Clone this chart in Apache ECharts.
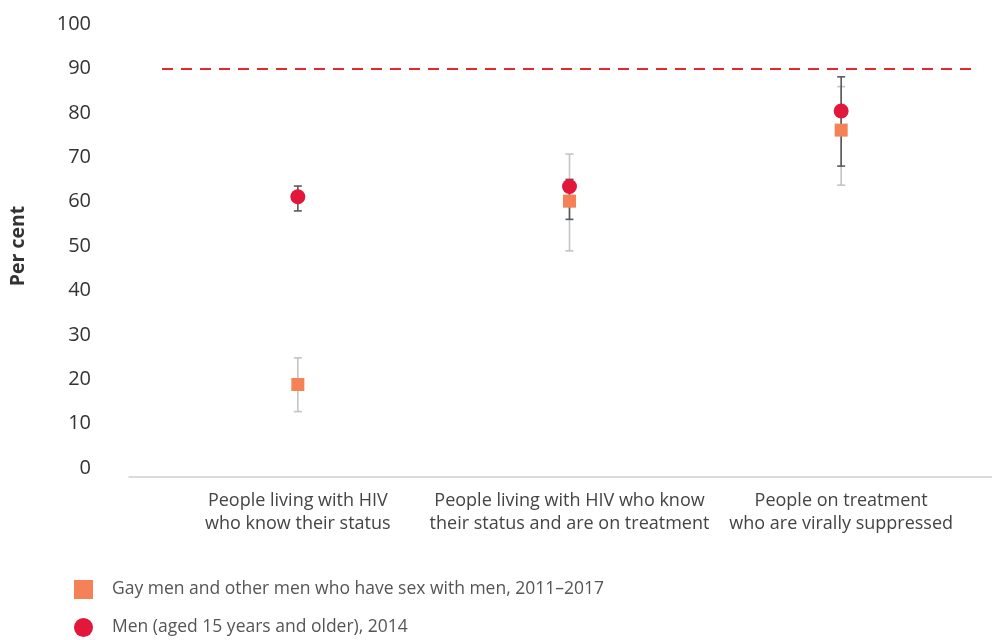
<!DOCTYPE html>
<html><head><meta charset="utf-8">
<script src="https://cdn.jsdelivr.net/npm/echarts@6/dist/echarts.min.js"></script>
<style>html,body{margin:0;padding:0;background:#fff}#c{width:992px;height:640px}</style>
</head><body><div id="c"></div>
<script>
const categories = ['People living with HIV\nwho know their status', 'People living with HIV who know\ntheir status and are on treatment', 'People on treatment\nwho are virally suppressed'];
const msmName = 'Gay men and other men who have sex with men, 2011–2017';
const menName = 'Men (aged 15 years and older), 2014';
const msmValues = [18.8, 60.1, 76.1];
const msmLow = [12.7, 48.9, 63.7];
const msmHigh = [24.8, 70.7, 85.9];
const menValues = [61.1, 63.4, 80.4];
const menLow = [57.9, 56.0, 68.0];
const menHigh = [63.5, 65.0, 88.1];
const targetValue = 90;
const yTicks = [0, 100, 10];

const FONT = '"Open Sans", sans-serif';
function errData(low, high) { return categories.map((c, i) => [i, low[i], high[i]]); }
function errSeries(low, high, color, z) {
  return {
    type: 'custom', xAxisIndex: 0, yAxisIndex: 0, z: z, silent: true,
    data: errData(low, high),
    renderItem: function (params, api) {
      const lo = api.coord([api.value(0), api.value(1)]);
      const hi = api.coord([api.value(0), api.value(2)]);
      const w = 4;
      const st = { stroke: color, lineWidth: 1.6 };
      return { type: 'group', children: [
        { type: 'line', shape: { x1: hi[0], y1: hi[1], x2: lo[0], y2: lo[1] }, style: st },
        { type: 'line', shape: { x1: hi[0] - w, y1: hi[1], x2: hi[0] + w, y2: hi[1] }, style: st },
        { type: 'line', shape: { x1: lo[0] - w, y1: lo[1], x2: lo[0] + w, y2: lo[1] }, style: st }
      ]};
    }
  };
}
const chart = echarts.init(document.getElementById('c'));
chart.setOption({
  animation: false,
  textStyle: { fontFamily: FONT },
  grid: [
    { left: 162, right: 15, top: 24, bottom: 172 },
    { left: 129, right: 0, top: 24, bottom: 163 }
  ],
  legend: {
    orient: 'vertical', left: 74, top: 580, padding: 0, height: 60, itemGap: 19, itemWidth: 19, itemHeight: 19,
    textStyle: { fontSize: 17.5, color: '#555', fontFamily: FONT, padding: [0, 0, 0, 14] },
    data: [{ name: msmName, icon: 'rect' }, { name: menName, icon: 'circle' }]
  },
  xAxis: [
    { type: 'category', gridIndex: 0, data: categories, boundaryGap: true,
      axisLine: { show: false }, axisTick: { show: false },
      axisLabel: { fontSize: 18, color: '#444', lineHeight: 23, margin: 21, fontFamily: FONT, interval: 0 } },
    { type: 'value', gridIndex: 1, min: 0, max: 1,
      axisLine: { show: true, lineStyle: { color: '#d0d0d0', width: 1.5 } },
      axisTick: { show: false }, axisLabel: { show: false }, splitLine: { show: false } }
  ],
  yAxis: [
    { type: 'value', gridIndex: 0, min: yTicks[0], max: yTicks[1], interval: yTicks[2],
      name: 'Per cent', nameLocation: 'middle', nameGap: 134, nameRotate: 90,
      nameTextStyle: { fontSize: 19.5, fontWeight: 'bold', color: '#333', fontFamily: FONT },
      axisLine: { show: false }, axisTick: { show: false }, splitLine: { show: false },
      axisLabel: { fontSize: 20, color: '#333', margin: 71, fontFamily: FONT } },
    { type: 'value', gridIndex: 1, show: false, min: 0, max: 1 }
  ],
  series: [
    errSeries(msmLow, msmHigh, '#c4c4c4', 2),
    errSeries(menLow, menHigh, '#5a5a5a', 3),
    { name: msmName, type: 'scatter', symbol: 'rect', symbolSize: 13, z: 4,
      itemStyle: { color: '#F58257', opacity: 1 }, data: msmValues,
      markLine: { silent: true, symbol: 'none', label: { show: false },
        lineStyle: { color: '#E8262E', type: [11, 8], width: 2.2 },
        data: [{ yAxis: targetValue }] } },
    { name: menName, type: 'scatter', symbol: 'circle', symbolSize: 15, z: 5,
      itemStyle: { color: '#E3173B', opacity: 1 }, data: menValues }
  ]
});
</script></body></html>
